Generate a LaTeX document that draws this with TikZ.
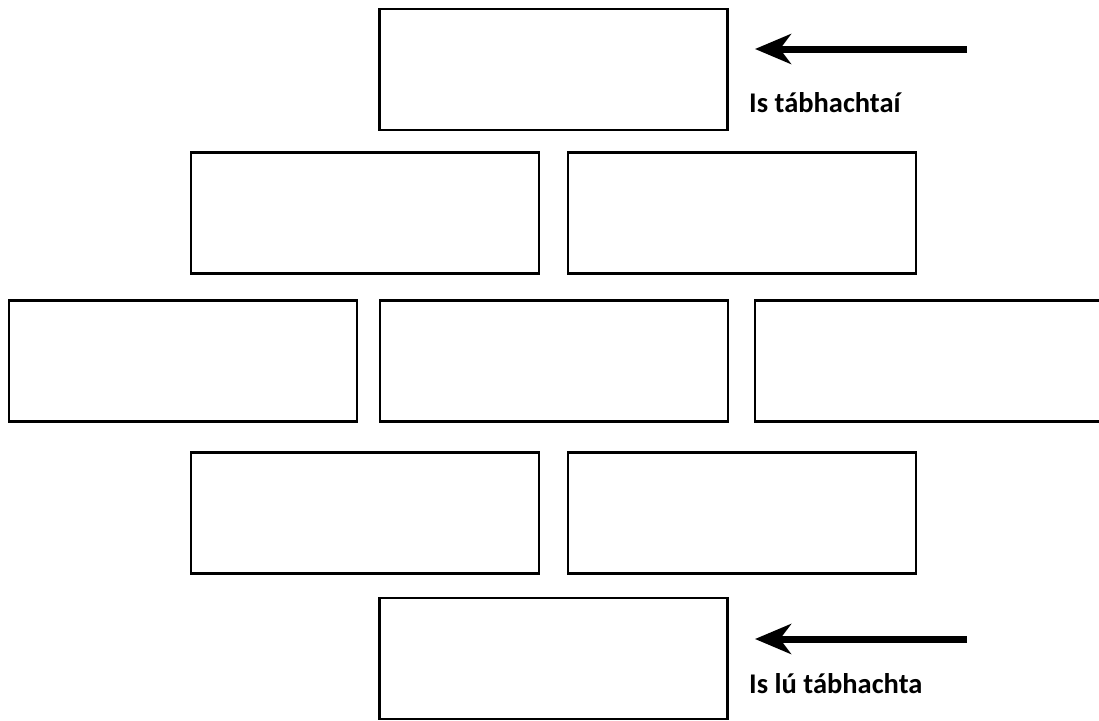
\documentclass[tikz,border=0pt]{standalone}
\usepackage{fontspec}
\setmainfont{Carlito}
\usetikzlibrary{arrows.meta}
\tikzset{
  box/.style={draw=black, line width=2.6pt, fill=white, minimum width=348pt, minimum height=121pt, inner sep=0pt},
  bigarrow/.style={line width=7pt, -{Stealth[length=36pt, width=30pt, inset=11pt]}},
  lbl/.style={anchor=base west, inner sep=0pt, font=\fontsize{28.5}{34}\selectfont\bfseries}
}
\begin{document}
\begin{tikzpicture}[x=1pt, y=-1pt]
\useasboundingbox (0,0) rectangle (1099,720);
\fill[white] (0,0) rectangle (1099,720);
% row 1
\node[box] (r1) at (553.5,69.5) {};
% row 2
\node[box] (r2a) at (365,213) {};
\node[box] (r2b) at (742,213) {};
% row 3
\node[box] (r3a) at (183,361) {};
\node[box] (r3b) at (554,361) {};
\node[box] (r3c) at (929,361) {};
% row 4
\node[box] (r4a) at (365,513) {};
\node[box] (r4b) at (742,513) {};
% row 5
\node[box] (r5) at (553.5,658.5) {};
% arrows
\coordinate (a1s) at (967,49);
\coordinate (a1e) at (755,49);
\coordinate (a2s) at (967,639);
\coordinate (a2e) at (755,639);
\draw[bigarrow] (a1s) -- (a1e);
\draw[bigarrow] (a2s) -- (a2e);
% labels
\node[lbl] (t1) at (749,112) {Is tábhachtaí};
\node[lbl] (t2) at (749,693) {Is lú tábhachta};
\end{tikzpicture}
\end{document}
